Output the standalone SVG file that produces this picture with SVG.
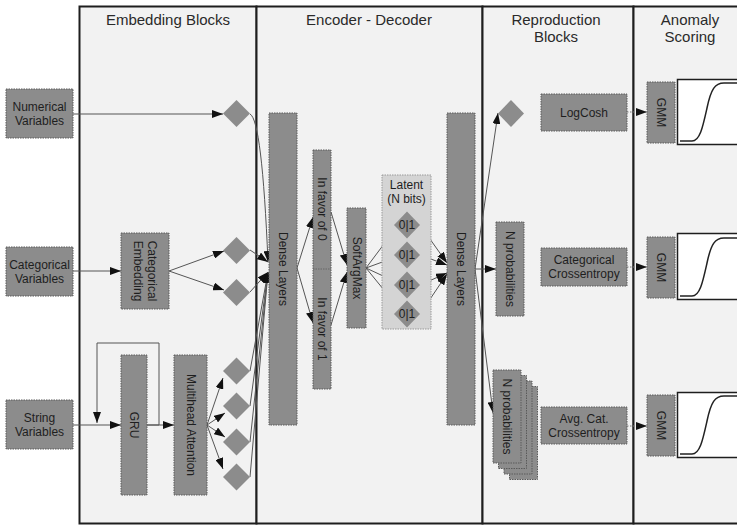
<svg xmlns="http://www.w3.org/2000/svg" width="737" height="525" viewBox="0 0 737 525">
  <defs>
    <marker id="arrow" markerUnits="userSpaceOnUse" markerWidth="11" markerHeight="8" refX="11" refY="4" orient="auto">
      <path d="M0,0 L11,4 L0,8 z" fill="#111"/>
    </marker>
    <style>
      .panel { fill: #f2f2f2; stroke: #1e1e1e; stroke-width: 2; }
      .title { font-family: "Liberation Sans", Arial, sans-serif; font-size: 15px; fill: #2a2a2a; text-anchor: middle; }
      .box { fill: #8c8c8c; stroke: #5a5a5a; stroke-width: 1; stroke-dasharray: 1.5 1; }
      .latent { fill: #d4d4d4; stroke: #9a9a9a; stroke-width: 1; stroke-dasharray: 1.5 1; }
      .dia { fill: #8c8c8c; }
      .lbl { font-family: "Liberation Sans", Arial, sans-serif; font-size: 12px; fill: #1e1e1e; text-anchor: middle; }
      .conn { fill: none; stroke: #555; stroke-width: 1; }
      .dot { fill: none; stroke: #777; stroke-width: 1; stroke-dasharray: 1.5 1.5; }
      .plot { fill: #ffffff; stroke: #1e1e1e; stroke-width: 1.5; }
      .curve { fill: none; stroke: #222; stroke-width: 1.5; }
    </style>
  </defs>

  <!-- panels -->
  <g id="panels">
    <rect class="panel" x="79.5" y="6.5" width="177" height="517"/>
    <rect class="panel" x="256.5" y="6.5" width="226" height="517"/>
    <rect class="panel" x="482.5" y="6.5" width="151" height="517"/>
    <rect class="panel" x="633.5" y="6.5" width="110" height="517"/>
    <text class="title" x="168" y="25">Embedding Blocks</text>
    <text class="title" x="369" y="25">Encoder - Decoder</text>
    <text class="title" x="556" y="25">Reproduction</text>
    <text class="title" x="556" y="42">Blocks</text>
    <text class="title" x="690" y="25">Anomaly</text>
    <text class="title" x="690" y="42">Scoring</text>
  </g>

  <!-- connectors -->
  <g id="connectors">
    <!-- inputs -->
    <line class="conn" x1="73" y1="114" x2="223" y2="114" marker-end="url(#arrow)"/>
    <line class="conn" x1="73" y1="271" x2="121" y2="271" marker-end="url(#arrow)"/>
    <line class="conn" x1="73" y1="425" x2="121" y2="425" marker-end="url(#arrow)"/>
    <!-- categorical embedding fan -->
    <line class="conn" x1="169" y1="271" x2="224" y2="251" marker-end="url(#arrow)"/>
    <line class="conn" x1="169" y1="271" x2="224" y2="290" marker-end="url(#arrow)"/>
    <!-- GRU loop -->
    <path class="conn" d="M147,425 H159 V343 H97 V423" marker-end="url(#arrow)"/>
    <line class="conn" x1="147" y1="425" x2="174" y2="425" marker-end="url(#arrow)"/>
    <!-- attention fan -->
    <line class="conn" x1="207" y1="425" x2="223" y2="378" marker-end="url(#arrow)"/>
    <line class="conn" x1="207" y1="425" x2="225" y2="413" marker-end="url(#arrow)"/>
    <line class="conn" x1="207" y1="425" x2="225" y2="437" marker-end="url(#arrow)"/>
    <line class="conn" x1="207" y1="425" x2="223" y2="469" marker-end="url(#arrow)"/>
    <!-- embeddings into encoder -->
    <path class="conn" d="M250,114 Q262,120 268,262" marker-end="url(#arrow)"/>
    <line class="conn" x1="250" y1="250" x2="268" y2="262" marker-end="url(#arrow)"/>
    <line class="conn" x1="250" y1="292" x2="268" y2="272" marker-end="url(#arrow)"/>
    <line class="conn" x1="250" y1="371" x2="268" y2="272" marker-end="url(#arrow)"/>
    <line class="conn" x1="250" y1="406" x2="268" y2="272" marker-end="url(#arrow)"/>
    <line class="conn" x1="250" y1="442" x2="268" y2="272" marker-end="url(#arrow)"/>
    <line class="conn" x1="250" y1="477" x2="268" y2="272" marker-end="url(#arrow)"/>
    <!-- encoder to favor blocks -->
    <line class="conn" x1="297" y1="268" x2="313" y2="217" marker-end="url(#arrow)"/>
    <line class="conn" x1="297" y1="268" x2="313" y2="323" marker-end="url(#arrow)"/>
    <line class="conn" x1="331" y1="212" x2="347" y2="265" marker-end="url(#arrow)"/>
    <line class="conn" x1="331" y1="325" x2="347" y2="272" marker-end="url(#arrow)"/>
    <!-- softargmax to latent bits -->
    <line class="conn" x1="366" y1="268" x2="396" y2="228" marker-end="url(#arrow)"/>
    <line class="conn" x1="366" y1="268" x2="396" y2="257" marker-end="url(#arrow)"/>
    <line class="conn" x1="366" y1="268" x2="396" y2="282" marker-end="url(#arrow)"/>
    <line class="conn" x1="366" y1="268" x2="397" y2="306" marker-end="url(#arrow)"/>
    <!-- latent bits to decoder -->
    <line class="conn" x1="420" y1="225" x2="447" y2="263" marker-end="url(#arrow)"/>
    <line class="conn" x1="420" y1="255" x2="447" y2="265" marker-end="url(#arrow)"/>
    <line class="conn" x1="420" y1="285" x2="447" y2="273" marker-end="url(#arrow)"/>
    <line class="conn" x1="420" y1="314" x2="447" y2="274" marker-end="url(#arrow)"/>
    <!-- decoder outputs -->
    <line class="conn" x1="475" y1="269" x2="498" y2="113" marker-end="url(#arrow)"/>
    <line class="conn" x1="475" y1="269" x2="496" y2="269" marker-end="url(#arrow)"/>
    <line class="conn" x1="475" y1="269" x2="493" y2="413" marker-end="url(#arrow)"/>
    <!-- losses to scoring -->
    <line class="dot" x1="627" y1="112" x2="647" y2="112" marker-end="url(#arrow)"/>
    <line class="dot" x1="627" y1="267" x2="647" y2="267" marker-end="url(#arrow)"/>
    <line class="dot" x1="627" y1="426" x2="647" y2="426" marker-end="url(#arrow)"/>
  </g>

  <!-- inputs -->
  <g id="numerical-variables">
    <rect class="box" x="6" y="89" width="67" height="49"/>
    <text class="lbl" x="39.5" y="111">Numerical</text>
    <text class="lbl" x="39.5" y="125">Variables</text>
  </g>
  <g id="categorical-variables">
    <rect class="box" x="6" y="247" width="67" height="49"/>
    <text class="lbl" x="39.5" y="269">Categorical</text>
    <text class="lbl" x="39.5" y="283">Variables</text>
  </g>
  <g id="string-variables">
    <rect class="box" x="6" y="400" width="67" height="49"/>
    <text class="lbl" x="39.5" y="422">String</text>
    <text class="lbl" x="39.5" y="436">Variables</text>
  </g>

  <!-- embedding blocks -->
  <g id="numerical-embedding">
    <polygon class="dia" points="236.5,100 250,113.5 236.5,127 223,113.5"/>
  </g>
  <g id="categorical-embedding">
    <rect class="box" x="121" y="233" width="48" height="76"/>
    <g transform="translate(145,271) rotate(90)">
      <text class="lbl" x="0" y="-3">Categorical</text>
      <text class="lbl" x="0" y="11">Embedding</text>
    </g>
  </g>
  <g id="categorical-outputs">
    <polygon class="dia" points="236.5,237 250,250.5 236.5,264 223,250.5"/>
    <polygon class="dia" points="236.5,279 250,292.5 236.5,306 223,292.5"/>
  </g>
  <g id="gru">
    <rect class="box" x="121" y="355" width="26" height="140"/>
    <text class="lbl" transform="translate(134,425) rotate(90)" y="4">GRU</text>
  </g>
  <g id="multihead-attention">
    <rect class="box" x="174" y="355" width="33" height="140"/>
    <text class="lbl" transform="translate(190.5,425) rotate(90)" y="4">Multihead Attention</text>
  </g>
  <g id="attention-outputs">
    <polygon class="dia" points="236.5,357.5 250,371 236.5,384.5 223,371"/>
    <polygon class="dia" points="236.5,392.5 250,406 236.5,419.5 223,406"/>
    <polygon class="dia" points="236.5,428.5 250,442 236.5,455.5 223,442"/>
    <polygon class="dia" points="236.5,463.5 250,477 236.5,490.5 223,477"/>
  </g>

  <!-- encoder / decoder -->
  <g id="encoder-dense">
    <rect class="box" x="269" y="113" width="28" height="312"/>
    <text class="lbl" transform="translate(283,269) rotate(90)" y="4">Dense Layers</text>
  </g>
  <g id="favor">
    <rect class="box" x="313" y="150" width="18" height="239"/>
    <line class="box" x1="313" y1="269" x2="331" y2="269" style="stroke:#666"/>
    <text class="lbl" transform="translate(322,209) rotate(90)" y="4">In favor of 0</text>
    <text class="lbl" transform="translate(322,329) rotate(90)" y="4">In favor of 1</text>
  </g>
  <g id="softargmax">
    <rect class="box" x="347" y="208" width="19" height="120"/>
    <text class="lbl" transform="translate(356.5,268) rotate(90)" y="4">SoftArgMax</text>
  </g>
  <g id="latent">
    <rect class="latent" x="382" y="175" width="49" height="154"/>
    <text class="lbl" x="406.5" y="189">Latent</text>
    <text class="lbl" x="406.5" y="203">(N bits)</text>
    <polygon class="dia" points="407,211.5 420,225 407,238.5 394,225"/>
    <polygon class="dia" points="407,241.5 420,255 407,268.5 394,255"/>
    <polygon class="dia" points="407,271.5 420,285 407,298.5 394,285"/>
    <polygon class="dia" points="407,300.5 420,314 407,327.5 394,314"/>
    <text class="lbl" x="407" y="229">0|1</text>
    <text class="lbl" x="407" y="259">0|1</text>
    <text class="lbl" x="407" y="289">0|1</text>
    <text class="lbl" x="407" y="318">0|1</text>
  </g>
  <g id="decoder-dense">
    <rect class="box" x="447" y="113" width="28" height="312"/>
    <text class="lbl" transform="translate(461,269) rotate(90)" y="4">Dense Layers</text>
  </g>

  <!-- reproduction blocks -->
  <g id="numerical-reproduction">
    <polygon class="dia" points="511,100 524,113.5 511,127 498,113.5"/>
  </g>
  <g id="logcosh">
    <rect class="box" x="541" y="94" width="86" height="37"/>
    <text class="lbl" x="584" y="117">LogCosh</text>
  </g>
  <g id="n-probabilities">
    <rect class="box" x="496" y="222" width="28" height="94"/>
    <text class="lbl" transform="translate(510,269) rotate(90)" y="4">N probabilities</text>
  </g>
  <g id="categorical-crossentropy">
    <rect class="box" x="541" y="248" width="86" height="38"/>
    <text class="lbl" x="584" y="264">Categorical</text>
    <text class="lbl" x="584" y="278">Crossentropy</text>
  </g>
  <g id="n-probabilities-stack">
    <rect class="box" x="509.5" y="386.5" width="28" height="93"/>
    <rect class="box" x="504" y="381" width="28" height="93"/>
    <rect class="box" x="498.5" y="375.5" width="28" height="93"/>
    <rect class="box" x="493" y="370" width="28" height="93"/>
    <text class="lbl" transform="translate(507,416.5) rotate(90)" y="4">N probabilities</text>
  </g>
  <g id="avg-cat-crossentropy">
    <rect class="box" x="541" y="407" width="86" height="37"/>
    <text class="lbl" x="584" y="423">Avg. Cat.</text>
    <text class="lbl" x="584" y="437">Crossentropy</text>
  </g>

  <!-- anomaly scoring -->
  <g id="gmm-numerical">
    <rect class="box" x="647" y="82" width="28" height="61"/>
    <text class="lbl" transform="translate(661,112.5) rotate(90)" y="4">GMM</text>
    <rect class="plot" x="677.5" y="79.5" width="70" height="65"/>
    <path class="curve" d="M680,141 H692 C700,141 703,126 707,108 C711,89 715,83 724,83 H737"/>
  </g>
  <g id="gmm-categorical">
    <rect class="box" x="647" y="237" width="28" height="61"/>
    <text class="lbl" transform="translate(661,267.5) rotate(90)" y="4">GMM</text>
    <rect class="plot" x="677.5" y="233.5" width="70" height="66"/>
    <path class="curve" d="M680,296 H692 C700,296 703,281 707,263 C711,244 715,238 724,238 H737"/>
  </g>
  <g id="gmm-string">
    <rect class="box" x="647" y="395" width="28" height="61"/>
    <text class="lbl" transform="translate(661,425.5) rotate(90)" y="4">GMM</text>
    <rect class="plot" x="677.5" y="392.5" width="70" height="65"/>
    <path class="curve" d="M680,454 H692 C700,454 703,439 707,421 C711,402 715,396 724,396 H737"/>
  </g>
</svg>
